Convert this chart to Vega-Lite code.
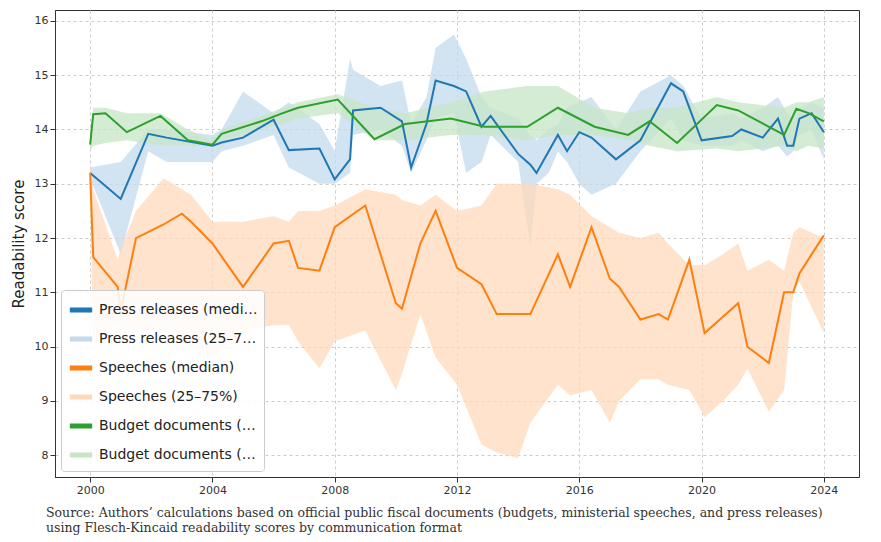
{
  "$schema": "https://vega.github.io/schema/vega-lite/v6.json",
  "width": 881,
  "height": 542,
  "autosize": {"type": "fit", "contains": "padding"},
  "padding": {"left": 0, "right": 22, "top": 10, "bottom": 8},
  "background": "white",
  "config": {
    "view": {"stroke": "#333", "strokeWidth": 1},
    "font": "DejaVu Sans",
    "axis": {"grid": true, "gridDash": [3, 3], "gridColor": "#cccccc", "labelFontSize": 11, "labelColor": "#333", "tickColor": "#333", "domainColor": "#333"}
  },
  "title": {
    "text": ["Source: Authors’ calculations based on official public fiscal documents (budgets, ministerial speeches, and press releases)", "using Flesch-Kincaid readability scores by communication format"],
    "orient": "bottom", "anchor": "start", "font": "DejaVu Serif", "fontSize": 12.5, "fontWeight": "normal", "color": "#333", "offset": 12, "frame": "bounds", "dx": 35
  },
  "datasets": {
    "rows": [
      {"m": "Press releases (median)", "b": "Press releases (25–75%)", "year": 2000, "med": 13.2, "lo": 13.1, "hi": 13.3},
      {"m": "Press releases (median)", "b": "Press releases (25–75%)", "year": 2001, "med": 12.72, "lo": 11.7, "hi": 13.4},
      {"m": "Press releases (median)", "b": "Press releases (25–75%)", "year": 2001.9, "med": 13.92, "lo": 13.6, "hi": 14.0},
      {"m": "Press releases (median)", "b": "Press releases (25–75%)", "year": 2002.5, "med": 13.85, "lo": 13.4, "hi": 14.0},
      {"m": "Press releases (median)", "b": "Press releases (25–75%)", "year": 2004, "med": 13.7, "lo": 13.4, "hi": 13.9},
      {"m": "Press releases (median)", "b": "Press releases (25–75%)", "year": 2004.3, "med": 13.76, "lo": 13.6, "hi": 14.0},
      {"m": "Press releases (median)", "b": "Press releases (25–75%)", "year": 2005, "med": 13.85, "lo": 13.7, "hi": 14.7},
      {"m": "Press releases (median)", "b": "Press releases (25–75%)", "year": 2006, "med": 14.18, "lo": 13.9, "hi": 14.3},
      {"m": "Press releases (median)", "b": "Press releases (25–75%)", "year": 2006.5, "med": 13.62, "lo": 13.3, "hi": 14.5},
      {"m": "Press releases (median)", "b": "Press releases (25–75%)", "year": 2007.5, "med": 13.65, "lo": 13.0, "hi": 14.1},
      {"m": "Press releases (median)", "b": "Press releases (25–75%)", "year": 2008, "med": 13.08, "lo": 13.0, "hi": 13.6},
      {"m": "Press releases (median)", "b": "Press releases (25–75%)", "year": 2008.5, "med": 13.45, "lo": 13.2, "hi": 15.3},
      {"m": "Press releases (median)", "b": "Press releases (25–75%)", "year": 2008.6, "med": 14.35, "lo": 13.9, "hi": 15.1},
      {"m": "Press releases (median)", "b": "Press releases (25–75%)", "year": 2009.5, "med": 14.4, "lo": 14.0, "hi": 14.8},
      {"m": "Press releases (median)", "b": "Press releases (25–75%)", "year": 2010.2, "med": 14.15, "lo": 13.7, "hi": 14.9},
      {"m": "Press releases (median)", "b": "Press releases (25–75%)", "year": 2010.5, "med": 13.3, "lo": 13.2, "hi": 14.1},
      {"m": "Press releases (median)", "b": "Press releases (25–75%)", "year": 2011, "med": 14.1, "lo": 13.8, "hi": 14.6},
      {"m": "Press releases (median)", "b": "Press releases (25–75%)", "year": 2011.3, "med": 14.9, "lo": 14.2, "hi": 15.5},
      {"m": "Press releases (median)", "b": "Press releases (25–75%)", "year": 2011.9, "med": 14.8, "lo": 14.3, "hi": 15.75},
      {"m": "Press releases (median)", "b": "Press releases (25–75%)", "year": 2012.3, "med": 14.7, "lo": 13.2, "hi": 15.3},
      {"m": "Press releases (median)", "b": "Press releases (25–75%)", "year": 2012.8, "med": 14.05, "lo": 13.4, "hi": 14.6},
      {"m": "Press releases (median)", "b": "Press releases (25–75%)", "year": 2013.1, "med": 14.25, "lo": 13.9, "hi": 14.4},
      {"m": "Press releases (median)", "b": "Press releases (25–75%)", "year": 2014, "med": 13.55, "lo": 13.4, "hi": 14.2},
      {"m": "Press releases (median)", "b": "Press releases (25–75%)", "year": 2014.4, "med": 13.35, "lo": 11.85, "hi": 13.9},
      {"m": "Press releases (median)", "b": "Press releases (25–75%)", "year": 2014.6, "med": 13.2, "lo": 13.0, "hi": 13.8},
      {"m": "Press releases (median)", "b": "Press releases (25–75%)", "year": 2015, "med": 13.6, "lo": 13.2, "hi": 14.0},
      {"m": "Press releases (median)", "b": "Press releases (25–75%)", "year": 2015.3, "med": 13.9, "lo": 13.6, "hi": 14.1},
      {"m": "Press releases (median)", "b": "Press releases (25–75%)", "year": 2015.6, "med": 13.6, "lo": 13.4, "hi": 14.4},
      {"m": "Press releases (median)", "b": "Press releases (25–75%)", "year": 2016, "med": 13.95, "lo": 13.0, "hi": 14.5},
      {"m": "Press releases (median)", "b": "Press releases (25–75%)", "year": 2016.4, "med": 13.85, "lo": 12.8, "hi": 14.6},
      {"m": "Press releases (median)", "b": "Press releases (25–75%)", "year": 2017.2, "med": 13.45, "lo": 13.0, "hi": 14.0},
      {"m": "Press releases (median)", "b": "Press releases (25–75%)", "year": 2018, "med": 13.8, "lo": 13.6, "hi": 14.7},
      {"m": "Press releases (median)", "b": "Press releases (25–75%)", "year": 2019, "med": 14.85, "lo": 14.2, "hi": 15.0},
      {"m": "Press releases (median)", "b": "Press releases (25–75%)", "year": 2019.4, "med": 14.7, "lo": 13.8, "hi": 14.8},
      {"m": "Press releases (median)", "b": "Press releases (25–75%)", "year": 2020, "med": 13.8, "lo": 13.7, "hi": 14.2},
      {"m": "Press releases (median)", "b": "Press releases (25–75%)", "year": 2021, "med": 13.88, "lo": 13.7, "hi": 14.3},
      {"m": "Press releases (median)", "b": "Press releases (25–75%)", "year": 2021.3, "med": 14.0, "lo": 13.8, "hi": 14.2},
      {"m": "Press releases (median)", "b": "Press releases (25–75%)", "year": 2022, "med": 13.85, "lo": 13.6, "hi": 14.4},
      {"m": "Press releases (median)", "b": "Press releases (25–75%)", "year": 2022.5, "med": 14.2, "lo": 13.7, "hi": 14.6},
      {"m": "Press releases (median)", "b": "Press releases (25–75%)", "year": 2022.8, "med": 13.7, "lo": 13.5, "hi": 14.3},
      {"m": "Press releases (median)", "b": "Press releases (25–75%)", "year": 2023, "med": 13.7, "lo": 13.6, "hi": 14.2},
      {"m": "Press releases (median)", "b": "Press releases (25–75%)", "year": 2023.2, "med": 14.2, "lo": 13.9, "hi": 14.4},
      {"m": "Press releases (median)", "b": "Press releases (25–75%)", "year": 2023.6, "med": 14.3, "lo": 14.0, "hi": 14.5},
      {"m": "Press releases (median)", "b": "Press releases (25–75%)", "year": 2024, "med": 13.95, "lo": 13.45, "hi": 14.4},

      {"m": "Speeches (median)", "b": "Speeches (25–75%)", "year": 2000, "med": 13.2, "lo": 12.8, "hi": 13.35},
      {"m": "Speeches (median)", "b": "Speeches (25–75%)", "year": 2000.1, "med": 11.65, "lo": 10.0, "hi": 12.9},
      {"m": "Speeches (median)", "b": "Speeches (25–75%)", "year": 2000.9, "med": 11.1, "lo": 10.4, "hi": 11.6},
      {"m": "Speeches (median)", "b": "Speeches (25–75%)", "year": 2001, "med": 10.65, "lo": 10.2, "hi": 11.8},
      {"m": "Speeches (median)", "b": "Speeches (25–75%)", "year": 2001.5, "med": 12.0, "lo": 10.3, "hi": 12.5},
      {"m": "Speeches (median)", "b": "Speeches (25–75%)", "year": 2002.4, "med": 12.25, "lo": 10.3, "hi": 13.1},
      {"m": "Speeches (median)", "b": "Speeches (25–75%)", "year": 2003, "med": 12.45, "lo": 10.1, "hi": 12.9},
      {"m": "Speeches (median)", "b": "Speeches (25–75%)", "year": 2003.3, "med": 12.3, "lo": 10.0, "hi": 12.8},
      {"m": "Speeches (median)", "b": "Speeches (25–75%)", "year": 2004, "med": 11.9, "lo": 9.8, "hi": 12.3},
      {"m": "Speeches (median)", "b": "Speeches (25–75%)", "year": 2005, "med": 11.1, "lo": 10.3, "hi": 12.3},
      {"m": "Speeches (median)", "b": "Speeches (25–75%)", "year": 2006, "med": 11.9, "lo": 10.4, "hi": 12.4},
      {"m": "Speeches (median)", "b": "Speeches (25–75%)", "year": 2006.5, "med": 11.95, "lo": 10.4, "hi": 12.3},
      {"m": "Speeches (median)", "b": "Speeches (25–75%)", "year": 2006.8, "med": 11.45, "lo": 10.1, "hi": 12.5},
      {"m": "Speeches (median)", "b": "Speeches (25–75%)", "year": 2007.5, "med": 11.4, "lo": 9.6, "hi": 12.5},
      {"m": "Speeches (median)", "b": "Speeches (25–75%)", "year": 2008, "med": 12.2, "lo": 10.1, "hi": 12.6},
      {"m": "Speeches (median)", "b": "Speeches (25–75%)", "year": 2009, "med": 12.6, "lo": 10.3, "hi": 12.9},
      {"m": "Speeches (median)", "b": "Speeches (25–75%)", "year": 2010, "med": 10.8, "lo": 9.2, "hi": 12.8},
      {"m": "Speeches (median)", "b": "Speeches (25–75%)", "year": 2010.2, "med": 10.7, "lo": 9.5, "hi": 12.7},
      {"m": "Speeches (median)", "b": "Speeches (25–75%)", "year": 2010.8, "med": 11.9, "lo": 10.6, "hi": 12.6},
      {"m": "Speeches (median)", "b": "Speeches (25–75%)", "year": 2011.3, "med": 12.5, "lo": 9.8, "hi": 12.8},
      {"m": "Speeches (median)", "b": "Speeches (25–75%)", "year": 2012, "med": 11.45, "lo": 9.3, "hi": 12.5},
      {"m": "Speeches (median)", "b": "Speeches (25–75%)", "year": 2012.8, "med": 11.15, "lo": 8.2, "hi": 12.6},
      {"m": "Speeches (median)", "b": "Speeches (25–75%)", "year": 2013.3, "med": 10.6, "lo": 8.05, "hi": 13.0},
      {"m": "Speeches (median)", "b": "Speeches (25–75%)", "year": 2014, "med": 10.6, "lo": 7.95, "hi": 13.0},
      {"m": "Speeches (median)", "b": "Speeches (25–75%)", "year": 2014.4, "med": 10.6, "lo": 8.6, "hi": 13.0},
      {"m": "Speeches (median)", "b": "Speeches (25–75%)", "year": 2015.3, "med": 11.7, "lo": 9.3, "hi": 12.9},
      {"m": "Speeches (median)", "b": "Speeches (25–75%)", "year": 2015.7, "med": 11.1, "lo": 9.1, "hi": 12.8},
      {"m": "Speeches (median)", "b": "Speeches (25–75%)", "year": 2016.4, "med": 12.2, "lo": 9.2, "hi": 12.4},
      {"m": "Speeches (median)", "b": "Speeches (25–75%)", "year": 2017, "med": 11.25, "lo": 8.6, "hi": 12.2},
      {"m": "Speeches (median)", "b": "Speeches (25–75%)", "year": 2017.3, "med": 11.1, "lo": 9.0, "hi": 12.1},
      {"m": "Speeches (median)", "b": "Speeches (25–75%)", "year": 2018, "med": 10.5, "lo": 9.4, "hi": 12.0},
      {"m": "Speeches (median)", "b": "Speeches (25–75%)", "year": 2018.6, "med": 10.6, "lo": 9.4, "hi": 12.1},
      {"m": "Speeches (median)", "b": "Speeches (25–75%)", "year": 2018.9, "med": 10.5, "lo": 9.3, "hi": 11.9},
      {"m": "Speeches (median)", "b": "Speeches (25–75%)", "year": 2019.6, "med": 11.6, "lo": 9.2, "hi": 11.5},
      {"m": "Speeches (median)", "b": "Speeches (25–75%)", "year": 2020.1, "med": 10.25, "lo": 8.7, "hi": 11.5},
      {"m": "Speeches (median)", "b": "Speeches (25–75%)", "year": 2020.7, "med": 10.55, "lo": 9.0, "hi": 11.7},
      {"m": "Speeches (median)", "b": "Speeches (25–75%)", "year": 2021.2, "med": 10.8, "lo": 9.3, "hi": 11.9},
      {"m": "Speeches (median)", "b": "Speeches (25–75%)", "year": 2021.5, "med": 10.0, "lo": 9.6, "hi": 11.4},
      {"m": "Speeches (median)", "b": "Speeches (25–75%)", "year": 2022.2, "med": 9.7, "lo": 8.8, "hi": 11.6},
      {"m": "Speeches (median)", "b": "Speeches (25–75%)", "year": 2022.7, "med": 11.0, "lo": 9.2, "hi": 11.4},
      {"m": "Speeches (median)", "b": "Speeches (25–75%)", "year": 2023, "med": 11.0, "lo": 11.0, "hi": 12.1},
      {"m": "Speeches (median)", "b": "Speeches (25–75%)", "year": 2023.2, "med": 11.35, "lo": 11.2, "hi": 12.2},
      {"m": "Speeches (median)", "b": "Speeches (25–75%)", "year": 2024, "med": 12.05, "lo": 10.25, "hi": 12.0},

      {"m": "Budget documents (median)", "b": "Budget documents (25–75%)", "year": 2000, "med": 13.72, "lo": 13.6, "hi": 13.9},
      {"m": "Budget documents (median)", "b": "Budget documents (25–75%)", "year": 2000.1, "med": 14.28, "lo": 13.7, "hi": 14.4},
      {"m": "Budget documents (median)", "b": "Budget documents (25–75%)", "year": 2000.5, "med": 14.3, "lo": 13.75, "hi": 14.4},
      {"m": "Budget documents (median)", "b": "Budget documents (25–75%)", "year": 2001.2, "med": 13.95, "lo": 13.8, "hi": 14.3},
      {"m": "Budget documents (median)", "b": "Budget documents (25–75%)", "year": 2002.3, "med": 14.25, "lo": 13.7, "hi": 14.3},
      {"m": "Budget documents (median)", "b": "Budget documents (25–75%)", "year": 2003.2, "med": 13.8, "lo": 13.7, "hi": 14.0},
      {"m": "Budget documents (median)", "b": "Budget documents (25–75%)", "year": 2004, "med": 13.72, "lo": 13.7, "hi": 13.8},
      {"m": "Budget documents (median)", "b": "Budget documents (25–75%)", "year": 2004.3, "med": 13.92, "lo": 13.8, "hi": 14.0},
      {"m": "Budget documents (median)", "b": "Budget documents (25–75%)", "year": 2005.6, "med": 14.15, "lo": 14.0, "hi": 14.25},
      {"m": "Budget documents (median)", "b": "Budget documents (25–75%)", "year": 2006.3, "med": 14.3, "lo": 14.1, "hi": 14.4},
      {"m": "Budget documents (median)", "b": "Budget documents (25–75%)", "year": 2006.8, "med": 14.4, "lo": 14.2, "hi": 14.5},
      {"m": "Budget documents (median)", "b": "Budget documents (25–75%)", "year": 2008.1, "med": 14.55, "lo": 14.3, "hi": 14.65},
      {"m": "Budget documents (median)", "b": "Budget documents (25–75%)", "year": 2009.3, "med": 13.82, "lo": 13.8, "hi": 14.4},
      {"m": "Budget documents (median)", "b": "Budget documents (25–75%)", "year": 2010.3, "med": 14.1, "lo": 13.8, "hi": 14.3},
      {"m": "Budget documents (median)", "b": "Budget documents (25–75%)", "year": 2011.8, "med": 14.2, "lo": 13.9, "hi": 14.5},
      {"m": "Budget documents (median)", "b": "Budget documents (25–75%)", "year": 2012.9, "med": 14.05, "lo": 13.9, "hi": 14.7},
      {"m": "Budget documents (median)", "b": "Budget documents (25–75%)", "year": 2014.3, "med": 14.05, "lo": 13.8, "hi": 14.8},
      {"m": "Budget documents (median)", "b": "Budget documents (25–75%)", "year": 2015.3, "med": 14.4, "lo": 13.9, "hi": 14.8},
      {"m": "Budget documents (median)", "b": "Budget documents (25–75%)", "year": 2016.5, "med": 14.05, "lo": 13.9, "hi": 14.4},
      {"m": "Budget documents (median)", "b": "Budget documents (25–75%)", "year": 2017.6, "med": 13.9, "lo": 13.8, "hi": 14.3},
      {"m": "Budget documents (median)", "b": "Budget documents (25–75%)", "year": 2018.3, "med": 14.15, "lo": 13.7, "hi": 14.4},
      {"m": "Budget documents (median)", "b": "Budget documents (25–75%)", "year": 2019.2, "med": 13.75, "lo": 13.6, "hi": 14.4},
      {"m": "Budget documents (median)", "b": "Budget documents (25–75%)", "year": 2020.5, "med": 14.45, "lo": 13.65, "hi": 14.6},
      {"m": "Budget documents (median)", "b": "Budget documents (25–75%)", "year": 2021.2, "med": 14.35, "lo": 13.6, "hi": 14.5},
      {"m": "Budget documents (median)", "b": "Budget documents (25–75%)", "year": 2022.7, "med": 13.9, "lo": 13.7, "hi": 14.4},
      {"m": "Budget documents (median)", "b": "Budget documents (25–75%)", "year": 2023.1, "med": 14.38, "lo": 13.6, "hi": 14.5},
      {"m": "Budget documents (median)", "b": "Budget documents (25–75%)", "year": 2023.5, "med": 14.3, "lo": 13.7, "hi": 14.5},
      {"m": "Budget documents (median)", "b": "Budget documents (25–75%)", "year": 2024, "med": 14.15, "lo": 13.65, "hi": 14.6}
    ]
  },
  "data": {"name": "rows"},
  "encoding": {
    "x": {"field": "year", "type": "quantitative", "title": null, "scale": {"domain": [1998.85, 2025.15], "nice": false}, "axis": {"values": [2000, 2004, 2008, 2012, 2016, 2020, 2024], "format": "d"}}
  },
  "layer": [
    {
      "mark": {"type": "area", "fillOpacity": 0.75, "interpolate": "linear"},
      "encoding": {
        "y": {"field": "lo", "type": "quantitative", "title": "Readability score", "scale": {"domain": [7.6, 16.2], "nice": false}, "axis": {"values": [8, 9, 10, 11, 12, 13, 14, 15, 16], "titleFontSize": 15, "titleFontWeight": "normal", "titleColor": "#222", "titlePadding": 8}},
        "y2": {"field": "hi"},
        "color": {"field": "b", "type": "nominal", "legend": {
          "title": null, "orient": "bottom-left", "values": ["Press releases (median)", "Press releases (25–75%)", "Speeches (median)", "Speeches (25–75%)", "Budget documents (median)", "Budget documents (25–75%)"],
          "symbolType": "stroke", "symbolStrokeWidth": 5, "symbolSize": 500, "labelFontSize": 14, "labelColor": "#222", "rowPadding": 5,
          "fillColor": "rgba(255,255,255,0.85)", "strokeColor": "#ccc", "padding": 6, "cornerRadius": 3, "offset": 6
        }, "scale": {"domain": ["Press releases (median)", "Press releases (25–75%)", "Speeches (median)", "Speeches (25–75%)", "Budget documents (median)", "Budget documents (25–75%)"], "range": ["#1f77b4", "#c3d9ec", "#ff7f0e", "#ffd9bb", "#2ca02c", "#c7e6c5"]}},
        "detail": {"field": "b"}
      }
    },
    {
      "mark": {"type": "line", "strokeWidth": 2},
      "encoding": {
        "y": {"field": "med", "type": "quantitative"},
        "color": {"field": "m", "type": "nominal"}
      }
    }
  ]
}
